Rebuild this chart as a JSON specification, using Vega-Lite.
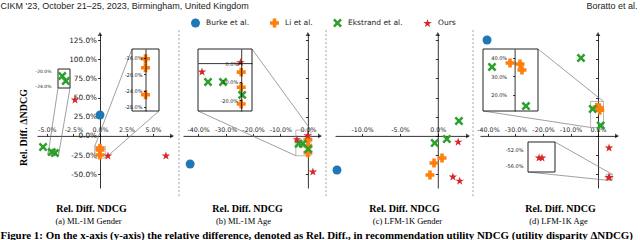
{
"$schema": "https://vega.github.io/schema/vega-lite/v6.json",
"width": 640, "height": 240, "autosize": {"type": "none"}, "padding": 0, "background": "white",
"config": {"view": {"stroke": null},
  "axis": {"grid": false, "domainColor": "#000", "tickColor": "#000", "domainWidth": 0.8, "tickWidth": 0.8, "labelColor": "#222", "labelFont": "DejaVu Sans", "labelOverlap": false, "labelFlush": false, "labelBound": false, "titleFont": "Liberation Serif", "titleColor": "#000", "tickSize": 2.5, "labelPadding": 1, "tickCount": 60}},
"datasets": {
  "a": [
    {"method": "Burke et al.", "x": 0, "y": 0.273},
    {"method": "Li et al.", "x": 0, "y": -0.162},
    {"method": "Li et al.", "x": 0, "y": -0.184},
    {"method": "Li et al.", "x": 0, "y": -0.25},
    {"method": "Ekstrand et al.", "x": -0.0537, "y": -0.145},
    {"method": "Ekstrand et al.", "x": -0.0455, "y": -0.211},
    {"method": "Ekstrand et al.", "x": -0.0425, "y": -0.224},
    {"method": "Ours", "x": -0.0236, "y": 0.469},
    {"method": "Ours", "x": 0.0075, "y": -0.262},
    {"method": "Ours", "x": 0.0622, "y": -0.262}
  ],
  "b": [
    {"method": "Burke et al.", "x": -0.429, "y": -0.367},
    {"method": "Li et al.", "x": 0, "y": -0.049},
    {"method": "Li et al.", "x": 0, "y": -0.131},
    {"method": "Li et al.", "x": 0, "y": -0.221},
    {"method": "Ekstrand et al.", "x": -0.0338, "y": -0.102},
    {"method": "Ekstrand et al.", "x": -0.0185, "y": -0.102},
    {"method": "Ekstrand et al.", "x": 0.001, "y": -0.172},
    {"method": "Ours", "x": -0.0399, "y": -0.048},
    {"method": "Ours", "x": -0.0008, "y": 0.003},
    {"method": "Ours", "x": 0.018, "y": -0.471}
  ],
  "c": [
    {"method": "Burke et al.", "x": -0.1334, "y": -0.445},
    {"method": "Li et al.", "x": 0.0056, "y": -0.288},
    {"method": "Li et al.", "x": -0.005, "y": -0.354},
    {"method": "Li et al.", "x": -0.0103, "y": -0.51},
    {"method": "Ekstrand et al.", "x": 0.028, "y": 0.194},
    {"method": "Ekstrand et al.", "x": 0.012, "y": -0.04},
    {"method": "Ekstrand et al.", "x": -0.004, "y": -0.093},
    {"method": "Ours", "x": 0.027, "y": -0.08},
    {"method": "Ours", "x": 0.02, "y": -0.536},
    {"method": "Ours", "x": 0.029, "y": -0.589}
  ],
  "d": [
    {"method": "Burke et al.", "x": -0.4035, "y": 1.252},
    {"method": "Li et al.", "x": -0.0039, "y": 0.372},
    {"method": "Li et al.", "x": 0.0046, "y": 0.367},
    {"method": "Li et al.", "x": 0.0063, "y": 0.334},
    {"method": "Ekstrand et al.", "x": -0.062, "y": 1.017},
    {"method": "Ekstrand et al.", "x": -0.0193, "y": 0.351},
    {"method": "Ekstrand et al.", "x": 0.0097, "y": 0.137},
    {"method": "Ours", "x": 0.04, "y": -0.158},
    {"method": "Ours", "x": 0.039, "y": -0.5425},
    {"method": "Ours", "x": 0.0414, "y": -0.5425}
  ]
},
"resolve": {"scale": {"x": "independent", "y": "independent"}},
"layer": [
  {"layer": [
    {"data": {"values": [{}]}, "mark": {"type": "rect", "filled": false, "stroke": "#999", "strokeWidth": 0.7}, "encoding": {"x": {"datum": -0.049, "type": "quantitative"}, "x2": {"datum": -0.039}, "y": {"datum": -0.243, "type": "quantitative"}, "y2": {"datum": -0.192}}},
    {"data": {"values": [{}]}, "mark": {"type": "rect", "filled": false, "stroke": "#999", "strokeWidth": 0.7}, "encoding": {"x": {"datum": -0.005, "type": "quantitative"}, "x2": {"datum": 0.005}, "y": {"datum": -0.29, "type": "quantitative"}, "y2": {"datum": -0.138}}},
    {"data": {"values": [{}]}, "mark": {"type": "rule", "color": "#777", "strokeWidth": 0.7}, "encoding": {"x": {"datum": -0.0396, "type": "quantitative"}, "y": {"datum": 0.6252, "type": "quantitative"}, "x2": {"datum": -0.049}, "y2": {"datum": -0.243}}},
    {"data": {"values": [{}]}, "mark": {"type": "rule", "color": "#777", "strokeWidth": 0.7}, "encoding": {"x": {"datum": -0.0283, "type": "quantitative"}, "y": {"datum": 0.6252, "type": "quantitative"}, "x2": {"datum": -0.039}, "y2": {"datum": -0.243}}},
    {"data": {"values": [{}]}, "mark": {"type": "rule", "color": "#777", "strokeWidth": 0.7}, "encoding": {"x": {"datum": 0.0302, "type": "quantitative"}, "y": {"datum": 1.1342, "type": "quantitative"}, "x2": {"datum": -0.005}, "y2": {"datum": -0.138}}},
    {"data": {"values": [{}]}, "mark": {"type": "rule", "color": "#777", "strokeWidth": 0.7}, "encoding": {"x": {"datum": 0.0556, "type": "quantitative"}, "y": {"datum": 0.325, "type": "quantitative"}, "x2": {"datum": 0.005}, "y2": {"datum": -0.29}}},
    {"data": {"values": [{}]}, "mark": {"type": "point", "shape": "triangle-right", "filled": true, "color": "#000", "size": 22, "strokeWidth": 0}, "encoding": {"x": {"datum": 0.0679, "type": "quantitative"}, "y": {"datum": 0, "type": "quantitative"}}},
    {"data": {"values": [{}]}, "mark": {"type": "point", "shape": "triangle-up", "filled": true, "color": "#000", "size": 22, "strokeWidth": 0}, "encoding": {"x": {"datum": 0, "type": "quantitative"}, "y": {"datum": 1.33, "type": "quantitative"}}},
    {"data": {"name": "a"}, "mark": {"type": "point", "filled": true, "opacity": 1, "strokeWidth": 0},
     "encoding": {
      "x": {"field": "x", "type": "quantitative", "scale": {"domain": [-0.0594, 0.0679], "range": [37, 172], "nice": false, "zero": false},
        "axis": {"orient": "top", "offset": -135.9, "values": [-0.05, -0.025, 0, 0.025, 0.05], "tickCount": 60, "labelOverlap": false, "labelExpr": "replace(format(datum.value, '.1%'), '−', '-')", "labelFontSize": 6.3, "title": "Rel. Diff. NDCG", "titleX": 91, "titleY": 75.5, "titleAngle": 0, "titleAlign": "center", "titleBaseline": "alphabetic", "titleFontSize": 10, "titleFontWeight": "bold"}},
      "y": {"field": "y", "type": "quantitative", "scale": {"domain": [-0.68, 1.33], "range": [188, 34], "nice": false, "zero": false},
        "axis": {"orient": "left", "offset": -100, "values": [-0.5, -0.25, 0, 0.25, 0.5, 0.75, 1, 1.25], "tickCount": 60, "labelOverlap": false, "labelExpr": "replace(format(datum.value, '.1%'), '−', '-')", "labelFontSize": 7.3, "title": "Rel. Diff. ΔNDCG", "titleX": -77, "titleY": 127, "titleAngle": -90, "titleAlign": "center", "titleBaseline": "middle", "titleFontSize": 10, "titleFontWeight": "bold"}},
      "color": {"field": "method", "type": "nominal", "scale": {"domain": ["Burke et al.", "Li et al.", "Ekstrand et al.", "Ours"], "range": ["#1f77b4", "#ff7f0e", "#2ca02c", "#d62728"]},
        "legend": {"orient": "none", "legendX": 191, "legendY": 18.5, "direction": "horizontal", "title": null, "labelFont": "DejaVu Sans", "labelFontSize": 7.5, "labelColor": "#222", "labelOffset": 6, "columnPadding": 20, "symbolStrokeWidth": 0}},
      "shape": {"field": "method", "type": "nominal", "scale": {"domain": ["Burke et al.", "Li et al.", "Ekstrand et al.", "Ours"], "range": ["circle", "cross", "M-1,-0.6L-0.6,-1L0,-0.4L0.6,-1L1,-0.6L0.4,0L1,0.6L0.6,1L0,0.4L-0.6,1L-1,0.6L-0.4,0Z", "M0,-1L0.2245,-0.309L0.951,-0.309L0.363,0.118L0.588,0.809L0,0.382L-0.588,0.809L-0.363,0.118L-0.951,-0.309L-0.2245,-0.309Z"]},
        "legend": {"orient": "none", "legendX": 191, "legendY": 18.5, "direction": "horizontal", "title": null, "labelFont": "DejaVu Sans", "labelFontSize": 7.5, "labelColor": "#222", "labelOffset": 6, "columnPadding": 20, "symbolStrokeWidth": 0}},
      "size": {"field": "method", "type": "nominal", "scale": {"domain": ["Burke et al.", "Li et al.", "Ekstrand et al.", "Ours"], "range": [80, 80, 72, 130]},
        "legend": {"orient": "none", "legendX": 191, "legendY": 18.5, "direction": "horizontal", "title": null, "labelFont": "DejaVu Sans", "labelFontSize": 7.5, "labelColor": "#222", "labelOffset": 6, "columnPadding": 20, "symbolStrokeWidth": 0}}
     }}
  ]},
  {"layer": [
    {"data": {"values": [{}]}, "mark": {"type": "rule", "color": "#888", "strokeWidth": 0.8, "strokeDash": [2, 2]}, "encoding": {"x": {"datum": -0.4696, "type": "quantitative"}, "y": {"datum": 1.38, "type": "quantitative"}, "y2": {"datum": -0.8}}},
    {"data": {"values": [{}]}, "mark": {"type": "rect", "filled": false, "stroke": "#999", "strokeWidth": 0.7}, "encoding": {"x": {"datum": -0.044, "type": "quantitative"}, "x2": {"datum": 0.011}, "y": {"datum": -0.259, "type": "quantitative"}, "y2": {"datum": 0.076}}},
    {"data": {"values": [{}]}, "mark": {"type": "rule", "color": "#777", "strokeWidth": 0.7}, "encoding": {"x": {"datum": -0.2036, "type": "quantitative"}, "y": {"datum": 1.1342, "type": "quantitative"}, "x2": {"datum": 0.011}, "y2": {"datum": 0.076}}},
    {"data": {"values": [{}]}, "mark": {"type": "rule", "color": "#777", "strokeWidth": 0.7}, "encoding": {"x": {"datum": -0.4003, "type": "quantitative"}, "y": {"datum": 0.325, "type": "quantitative"}, "x2": {"datum": -0.044}, "y2": {"datum": -0.259}}},
    {"data": {"values": [{}]}, "mark": {"type": "point", "shape": "triangle-right", "filled": true, "color": "#000", "size": 22, "strokeWidth": 0}, "encoding": {"x": {"datum": 0.044, "type": "quantitative"}, "y": {"datum": 0, "type": "quantitative"}}},
    {"data": {"values": [{}]}, "mark": {"type": "point", "shape": "triangle-up", "filled": true, "color": "#000", "size": 22, "strokeWidth": 0}, "encoding": {"x": {"datum": 0, "type": "quantitative"}, "y": {"datum": 1.33, "type": "quantitative"}}},
    {"data": {"name": "b"}, "mark": {"type": "point", "filled": true, "opacity": 1, "strokeWidth": 0},
     "encoding": {
      "x": {"field": "x", "type": "quantitative", "scale": {"domain": [-0.455, 0.044], "range": [183, 320], "nice": false, "zero": false},
        "axis": {"orient": "top", "offset": -135.9, "values": [-0.4, -0.3, -0.2, -0.1, 0], "tickCount": 60, "labelOverlap": false, "labelExpr": "replace(format(datum.value, '.1%'), '−', '-')", "labelFontSize": 6.3, "title": "Rel. Diff. NDCG", "titleX": 247, "titleY": 75.5, "titleAngle": 0, "titleAlign": "center", "titleBaseline": "alphabetic", "titleFontSize": 10, "titleFontWeight": "bold"}},
      "y": {"field": "y", "type": "quantitative", "scale": {"domain": [-0.68, 1.33], "range": [188, 34], "nice": false, "zero": false},
        "axis": {"orient": "left", "offset": -307.9, "values": [-0.5, -0.25, 0, 0.25, 0.5, 0.75, 1, 1.25], "tickCount": 60, "labels": false, "title": "(b) ML-1M Age", "titleX": -64.9, "titleY": 223, "titleAngle": 0, "titleAlign": "center", "titleBaseline": "alphabetic", "titleFontSize": 8.5, "titleFontWeight": "normal"}},
      "color": {"field": "method", "type": "nominal"},
      "shape": {"field": "method", "type": "nominal"},
      "size": {"field": "method", "type": "nominal"}
     }}
  ]},
  {"layer": [
    {"data": {"values": [{}]}, "mark": {"type": "rule", "color": "#888", "strokeWidth": 0.8, "strokeDash": [2, 2]}, "encoding": {"x": {"datum": -0.1479, "type": "quantitative"}, "y": {"datum": 1.38, "type": "quantitative"}, "y2": {"datum": -0.8}}},
    {"data": {"values": [{}]}, "mark": {"type": "point", "shape": "triangle-right", "filled": true, "color": "#000", "size": 22, "strokeWidth": 0}, "encoding": {"x": {"datum": 0.04, "type": "quantitative"}, "y": {"datum": 0, "type": "quantitative"}}},
    {"data": {"values": [{}]}, "mark": {"type": "point", "shape": "triangle-up", "filled": true, "color": "#000", "size": 22, "strokeWidth": 0}, "encoding": {"x": {"datum": 0, "type": "quantitative"}, "y": {"datum": 1.33, "type": "quantitative"}}},
    {"data": {"name": "c"}, "mark": {"type": "point", "filled": true, "opacity": 1, "strokeWidth": 0},
     "encoding": {
      "x": {"field": "x", "type": "quantitative", "scale": {"domain": [-0.136, 0.04], "range": [335, 468], "nice": false, "zero": false},
        "axis": {"orient": "top", "offset": -135.9, "values": [-0.1, -0.05, 0], "tickCount": 60, "labelOverlap": false, "labelExpr": "replace(format(datum.value, '.1%'), '−', '-')", "labelFontSize": 6.3, "title": "Rel. Diff. NDCG", "titleX": 404, "titleY": 75.5, "titleAngle": 0, "titleAlign": "center", "titleBaseline": "alphabetic", "titleFontSize": 10, "titleFontWeight": "bold"}},
      "y": {"field": "y", "type": "quantitative", "scale": {"domain": [-0.68, 1.33], "range": [188, 34], "nice": false, "zero": false},
        "axis": {"orient": "left", "offset": -437.8, "values": [-0.5, -0.25, 0, 0.25, 0.5, 0.75, 1, 1.25], "tickCount": 60, "labels": false, "title": "(c) LFM-1K Gender", "titleX": -30.8, "titleY": 223, "titleAngle": 0, "titleAlign": "center", "titleBaseline": "alphabetic", "titleFontSize": 8.5, "titleFontWeight": "normal"}},
      "color": {"field": "method", "type": "nominal"},
      "shape": {"field": "method", "type": "nominal"},
      "size": {"field": "method", "type": "nominal"}
     }}
  ]},
  {"layer": [
    {"data": {"values": [{}]}, "mark": {"type": "rule", "color": "#888", "strokeWidth": 0.8, "strokeDash": [2, 2]}, "encoding": {"x": {"datum": -0.4544, "type": "quantitative"}, "y": {"datum": 1.38, "type": "quantitative"}, "y2": {"datum": -0.8}}},
    {"data": {"values": [{}]}, "mark": {"type": "rect", "filled": false, "stroke": "#999", "strokeWidth": 0.7}, "encoding": {"x": {"datum": -0.027, "type": "quantitative"}, "x2": {"datum": 0.02}, "y": {"datum": 0.11, "type": "quantitative"}, "y2": {"datum": 0.449}}},
    {"data": {"values": [{}]}, "mark": {"type": "rect", "filled": false, "stroke": "#999", "strokeWidth": 0.7}, "encoding": {"x": {"datum": 0.03, "type": "quantitative"}, "x2": {"datum": 0.052}, "y": {"datum": -0.5775, "type": "quantitative"}, "y2": {"datum": -0.5025}}},
    {"data": {"values": [{}]}, "mark": {"type": "rule", "color": "#777", "strokeWidth": 0.7}, "encoding": {"x": {"datum": -0.2181, "type": "quantitative"}, "y": {"datum": 1.1342, "type": "quantitative"}, "x2": {"datum": 0.02}, "y2": {"datum": 0.449}}},
    {"data": {"values": [{}]}, "mark": {"type": "rule", "color": "#777", "strokeWidth": 0.7}, "encoding": {"x": {"datum": -0.418, "type": "quantitative"}, "y": {"datum": 0.325, "type": "quantitative"}, "x2": {"datum": -0.027}, "y2": {"datum": 0.11}}},
    {"data": {"values": [{}]}, "mark": {"type": "rule", "color": "#777", "strokeWidth": 0.7}, "encoding": {"x": {"datum": -0.1563, "type": "quantitative"}, "y": {"datum": -0.0796, "type": "quantitative"}, "x2": {"datum": 0.052}, "y2": {"datum": -0.5025}}},
    {"data": {"values": [{}]}, "mark": {"type": "rule", "color": "#777", "strokeWidth": 0.7}, "encoding": {"x": {"datum": -0.2545, "type": "quantitative"}, "y": {"datum": -0.4712, "type": "quantitative"}, "x2": {"datum": 0.03}, "y2": {"datum": -0.5775}}},
    {"data": {"values": [{}]}, "mark": {"type": "point", "shape": "triangle-right", "filled": true, "color": "#000", "size": 22, "strokeWidth": 0}, "encoding": {"x": {"datum": 0.069, "type": "quantitative"}, "y": {"datum": 0, "type": "quantitative"}}},
    {"data": {"values": [{}]}, "mark": {"type": "point", "shape": "triangle-up", "filled": true, "color": "#000", "size": 22, "strokeWidth": 0}, "encoding": {"x": {"datum": 0, "type": "quantitative"}, "y": {"datum": 1.33, "type": "quantitative"}}},
    {"data": {"name": "d"}, "mark": {"type": "point", "filled": true, "opacity": 1, "strokeWidth": 0},
     "encoding": {
      "x": {"field": "x", "type": "quantitative", "scale": {"domain": [-0.429, 0.069], "range": [480, 617], "nice": false, "zero": false},
        "axis": {"orient": "top", "offset": -135.9, "values": [-0.4, -0.3, -0.2, -0.1, 0], "tickCount": 60, "labelOverlap": false, "labelExpr": "replace(format(datum.value, '.1%'), '−', '-')", "labelFontSize": 6.3, "title": "Rel. Diff. NDCG", "titleX": 560, "titleY": 75.5, "titleAngle": 0, "titleAlign": "center", "titleBaseline": "alphabetic", "titleFontSize": 10, "titleFontWeight": "bold"}},
      "y": {"field": "y", "type": "quantitative", "scale": {"domain": [-0.68, 1.33], "range": [188, 34], "nice": false, "zero": false},
        "axis": {"orient": "left", "offset": -598, "values": [-0.5, -0.25, 0, 0.25, 0.5, 0.75, 1, 1.25], "tickCount": 60, "labels": false, "title": "(d) LFM-1K Age", "titleX": -40, "titleY": 223, "titleAngle": 0, "titleAlign": "center", "titleBaseline": "alphabetic", "titleFontSize": 8.5, "titleFontWeight": "normal"}},
      "color": {"field": "method", "type": "nominal"},
      "shape": {"field": "method", "type": "nominal"},
      "size": {"field": "method", "type": "nominal"}
     }}
  ]},
  {"layer": [
    {"data": {"values": [{}]}, "mark": {"type": "rect", "fill": "white", "stroke": "#222", "strokeWidth": 1}, "encoding": {"x": {"datum": -0.049, "type": "quantitative"}, "x2": {"datum": -0.039}, "y": {"datum": -0.243, "type": "quantitative"}, "y2": {"datum": -0.192}}},
    {"data": {"name": "a"}, "transform": [{"filter": {"and": [{"field": "x", "range": [-0.049, -0.039]}, {"field": "y", "range": [-0.243, -0.192]}]}}],
     "mark": {"type": "point", "filled": true, "opacity": 1, "strokeWidth": 0},
     "encoding": {
      "x": {"field": "x", "type": "quantitative", "scale": {"domain": [-0.049, -0.039], "range": [58, 70], "nice": false, "zero": false},
        "axis": {"orient": "top", "offset": 0, "labels": false, "ticks": false, "domain": false, "title": "(a) ML-1M Gender", "titleX": 88, "titleY": 223, "titleAngle": 0, "titleAlign": "center", "titleBaseline": "alphabetic", "titleFontSize": 8.5, "titleFontWeight": "normal"}},
      "y": {"field": "y", "type": "quantitative", "scale": {"domain": [-0.243, -0.192], "range": [88, 69], "nice": false, "zero": false},
        "axis": {"orient": "left", "offset": -58, "values": [-0.2, -0.24], "tickCount": 60, "labelOverlap": false, "labelExpr": "replace(format(datum.value, '.1%'), '−', '-')", "labelFontSize": 4.5, "tickSize": 0, "labelPadding": 7, "domain": false, "title": null, "zindex": 1}},
      "color": {"field": "method", "type": "nominal"},
      "shape": {"field": "method", "type": "nominal"},
      "size": {"field": "method", "type": "nominal"}
     }}
  ]},
  {"layer": [
    {"data": {"values": [{}]}, "mark": {"type": "rect", "fill": "white", "stroke": "#222", "strokeWidth": 1}, "encoding": {"x": {"datum": -0.005, "type": "quantitative"}, "x2": {"datum": 0.005}, "y": {"datum": -0.29, "type": "quantitative"}, "y2": {"datum": -0.138}}},
    {"data": {"name": "a"}, "transform": [{"filter": {"and": [{"field": "x", "range": [-0.005, 0.005]}, {"field": "y", "range": [-0.29, -0.138]}]}}],
     "mark": {"type": "point", "filled": true, "opacity": 1, "strokeWidth": 0},
     "encoding": {
      "x": {"field": "x", "type": "quantitative", "scale": {"domain": [-0.005, 0.005], "range": [132, 159], "nice": false, "zero": false},
        "axis": {"orient": "top", "offset": 0, "labels": false, "ticks": false, "domain": false, "title": "CIKM '23, October 21–25, 2023, Birmingham, United Kingdom", "titleX": 0, "titleY": 8.5, "titleAngle": 0, "titleAlign": "left", "titleBaseline": "alphabetic", "titleFont": "Liberation Sans", "titleFontSize": 9, "titleFontWeight": "normal", "titleColor": "#222"}},
      "y": {"field": "y", "type": "quantitative", "scale": {"domain": [-0.29, -0.138], "range": [111, 49], "nice": false, "zero": false},
        "axis": {"orient": "left", "offset": -145.5, "values": [-0.16, -0.2, -0.24, -0.28], "tickCount": 60, "labelOverlap": false, "labelExpr": "replace(format(datum.value, '.1%'), '−', '-')", "labelFontSize": 5, "tickSize": 2, "labelPadding": 1.5, "title": null, "zindex": 1}},
      "color": {"field": "method", "type": "nominal"},
      "shape": {"field": "method", "type": "nominal"},
      "size": {"field": "method", "type": "nominal"}
     }}
  ]},
  {"layer": [
    {"data": {"values": [{}]}, "mark": {"type": "rect", "fill": "white", "stroke": "#222", "strokeWidth": 1}, "encoding": {"x": {"datum": -0.044, "type": "quantitative"}, "x2": {"datum": 0.011}, "y": {"datum": -0.259, "type": "quantitative"}, "y2": {"datum": 0.076}}},
    {"data": {"name": "b"}, "transform": [{"filter": {"and": [{"field": "x", "range": [-0.044, 0.011]}, {"field": "y", "range": [-0.259, 0.076]}]}}],
     "mark": {"type": "point", "filled": true, "opacity": 1, "strokeWidth": 0},
     "encoding": {
      "x": {"field": "x", "type": "quantitative", "scale": {"domain": [-0.044, 0.011], "range": [198, 252], "nice": false, "zero": false},
        "axis": {"orient": "top", "offset": -63.1, "labels": false, "ticks": false, "domain": true, "title": null, "zindex": 1}},
      "y": {"field": "y", "type": "quantitative", "scale": {"domain": [-0.259, 0.076], "range": [111, 49], "nice": false, "zero": false},
        "axis": {"orient": "left", "offset": -241.2, "values": [0, -0.1, -0.2], "tickCount": 60, "labelOverlap": false, "labelExpr": "replace(format(datum.value, '.1%'), '−', '-')", "labelFontSize": 5, "tickSize": 2, "labelPadding": 1.5, "title": null, "zindex": 1}},
      "color": {"field": "method", "type": "nominal"},
      "shape": {"field": "method", "type": "nominal"},
      "size": {"field": "method", "type": "nominal"}
     }}
  ]},
  {"layer": [
    {"data": {"values": [{}]}, "mark": {"type": "rect", "fill": "white", "stroke": "#222", "strokeWidth": 1}, "encoding": {"x": {"datum": -0.027, "type": "quantitative"}, "x2": {"datum": 0.02}, "y": {"datum": 0.11, "type": "quantitative"}, "y2": {"datum": 0.449}}},
    {"data": {"name": "d"}, "transform": [{"filter": {"and": [{"field": "x", "range": [-0.027, 0.02]}, {"field": "y", "range": [0.11, 0.449]}]}}],
     "mark": {"type": "point", "filled": true, "opacity": 1, "strokeWidth": 0},
     "encoding": {
      "x": {"field": "x", "type": "quantitative", "scale": {"domain": [-0.027, 0.02], "range": [483, 538], "nice": false, "zero": false},
        "axis": {"orient": "top", "offset": 0, "labels": false, "ticks": false, "domain": false, "title": "Boratto et al.", "titleX": 637, "titleY": 8.5, "titleAngle": 0, "titleAlign": "right", "titleBaseline": "alphabetic", "titleFont": "Liberation Sans", "titleFontSize": 9, "titleFontWeight": "normal", "titleColor": "#222"}},
      "y": {"field": "y", "type": "quantitative", "scale": {"domain": [0.11, 0.449], "range": [111, 49], "nice": false, "zero": false},
        "axis": {"orient": "left", "offset": -514.6, "values": [0.4, 0.3, 0.2], "tickCount": 60, "labelOverlap": false, "labelExpr": "replace(format(datum.value, '.1%'), '−', '-')", "labelFontSize": 5, "tickSize": 2, "labelPadding": 6, "title": null, "zindex": 1}},
      "color": {"field": "method", "type": "nominal"},
      "shape": {"field": "method", "type": "nominal"},
      "size": {"field": "method", "type": "nominal"}
     }}
  ]},
  {"layer": [
    {"data": {"values": [{}]}, "mark": {"type": "rect", "fill": "white", "stroke": "#222", "strokeWidth": 1}, "encoding": {"x": {"datum": 0.03, "type": "quantitative"}, "x2": {"datum": 0.052}, "y": {"datum": -0.5775, "type": "quantitative"}, "y2": {"datum": -0.5025}}},
    {"data": {"name": "d"}, "transform": [{"filter": {"and": [{"field": "x", "range": [0.03, 0.052]}, {"field": "y", "range": [-0.5775, -0.5025]}]}}],
     "mark": {"type": "point", "filled": true, "opacity": 1, "strokeWidth": 0},
     "encoding": {
      "x": {"field": "x", "type": "quantitative", "scale": {"domain": [0.03, 0.052], "range": [528, 555], "nice": false, "zero": false},
        "axis": {"orient": "top", "offset": 0, "labels": false, "ticks": false, "domain": false, "title": "Figure 1: On the x-axis (y-axis) the relative difference, denoted as Rel. Diff., in recommendation utility NDCG (utility disparity ΔNDCG)", "titleX": 0, "titleY": 238.5, "titleAngle": 0, "titleAlign": "left", "titleBaseline": "alphabetic", "titleFontSize": 10.9, "titleFontWeight": "bold"}},
      "y": {"field": "y", "type": "quantitative", "scale": {"domain": [-0.5775, -0.5025], "range": [172, 142], "nice": false, "zero": false},
        "axis": {"orient": "left", "offset": -528, "values": [-0.52, -0.56], "tickCount": 60, "labelOverlap": false, "labelExpr": "replace(format(datum.value, '.1%'), '−', '-')", "labelFontSize": 5, "tickSize": 0, "labelPadding": 5, "domain": false, "title": null, "zindex": 1}},
      "color": {"field": "method", "type": "nominal"},
      "shape": {"field": "method", "type": "nominal"},
      "size": {"field": "method", "type": "nominal"}
     }}
  ]}
]
}
